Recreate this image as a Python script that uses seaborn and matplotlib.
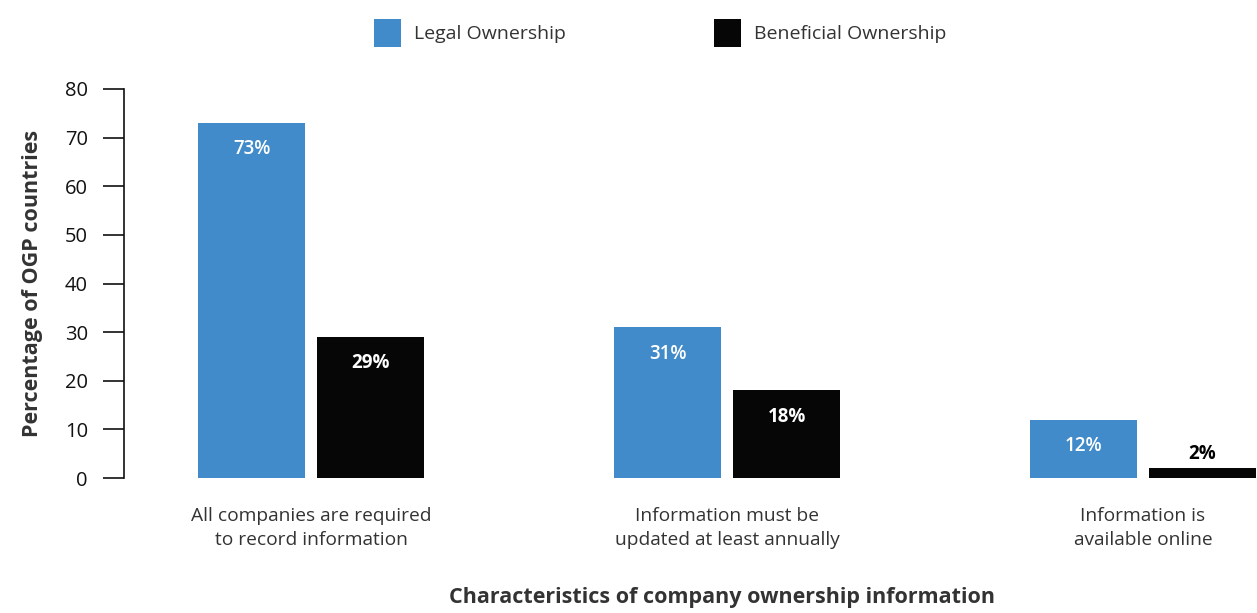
import pandas as pd
import matplotlib.pyplot as plt
import seaborn as sns

# Values
categories = ["All companies are required\nto record information",
              "Information must be\nupdated at least annually",
              "Information is\navailable online"]
series_names = ["Legal Ownership", "Beneficial Ownership"]
legal = [73, 31, 12]
beneficial = [29, 18, 2]
y_ticks = [0, 10, 20, 30, 40, 50, 60, 70, 80]

blue = "#428bca"
black = "#060606"

df = pd.DataFrame({
    "Category": categories * 2,
    "Series": [series_names[0]] * 3 + [series_names[1]] * 3,
    "Value": legal + beneficial,
})

sns.set_style("white")
plt.rcParams['font.family'] = ['Open Sans', 'DejaVu Sans']

fig = plt.figure(figsize=(12.57, 6.13), dpi=100)
ax = fig.add_axes([124 / 1257, 1 - 478 / 613, 1 - 124 / 1257, (478 - 89) / 613])

sns.barplot(data=df, x="Category", y="Value", hue="Series", order=categories,
            hue_order=series_names, palette=[blue, black], width=0.572,
            gap=0.1, saturation=1, linewidth=0, ax=ax)

ax.set_xlim(-0.45, 2.274)
ax.set_ylim(0, 80)
ax.set_yticks(y_ticks)
ax.tick_params(axis='y', left=True, direction='out', length=15, width=1.2, color='#111111',
               labelsize=14.5, pad=11, labelcolor='#111111')
ax.tick_params(axis='x', bottom=False, length=0, labelsize=13.8, pad=21, labelcolor='#333333')
for lbl in ax.get_xticklabels():
    lbl.set_linespacing(1.45)
for s in ['top', 'right', 'bottom']:
    ax.spines[s].set_visible(False)
ax.spines['left'].set_color('#111111')
ax.spines['left'].set_linewidth(1.2)

ax.set_xlabel("")
ax.set_ylabel("Percentage of OGP countries", fontsize=15.5, fontweight='bold',
              color='#333333', labelpad=16)
fig.text(722 / 1257, 1 - 598 / 613, "Characteristics of company ownership information",
         ha='center', va='center', fontsize=15.5, fontweight='bold', color='#333333')

# Value labels
for container, name in zip(ax.containers, series_names):
    for bar in container:
        val = bar.get_height()
        x = bar.get_x() + bar.get_width() / 2
        weight = 'semibold' if name == series_names[0] else 'bold'
        if val >= 5:
            ax.annotate(f"{val:.0f}%", (x, val), xytext=(0, -19), textcoords='offset points',
                        ha='center', va='center', color='white', fontsize=13.5, fontweight=weight)
        else:
            ax.annotate(f"{val:.0f}%", (x, val), xytext=(0, 10), textcoords='offset points',
                        ha='center', va='center', color='black', fontsize=13.5, fontweight='bold')

sns.move_legend(ax, "upper center", bbox_to_anchor=(660 / 1257, 1 - 1 / 613),
                bbox_transform=fig.transFigure, ncol=2, frameon=False, title=None,
                fontsize=14, handlelength=1.4, handleheight=1.85, handletextpad=0.65,
                columnspacing=7.6, labelcolor='#333333')

plt.savefig("out.png", dpi=100)
